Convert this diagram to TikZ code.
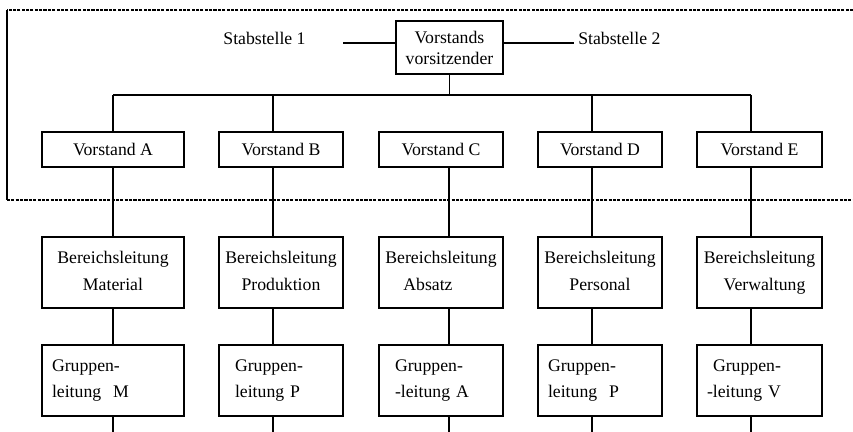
\documentclass[tikz,border=0pt]{standalone}
\usepackage{fontspec}
\setmainfont{Liberation Serif}
\usetikzlibrary{calc}

\tikzset{
    orgline/.style={line width=1.1pt},
    frameline/.style={line width=1.1pt, dash pattern=on 2.2pt off 0.9pt},
    vbox/.style={draw, orgline, inner sep=0pt, minimum height=35*0.025cm,
        font=\fontsize{12.6}{15}\selectfont},
    bbox/.style={draw, orgline, inner sep=0pt, minimum height=71*0.025cm,
        align=center, font=\fontsize{12.6}{19}\selectfont},
    gbox/.style={draw, orgline, inner xsep=10*0.025cm, inner ysep=0pt,
        minimum height=71*0.025cm, align=left,
        font=\fontsize{12.6}{19}\selectfont},
    stabtext/.style={inner sep=0pt, font=\fontsize{12.6}{15}\selectfont},
}

\begin{document}
\begin{tikzpicture}[x=0.025cm, y=-0.025cm]

    % canvas in pixel units of the reference
    \useasboundingbox (0,0) rectangle (853,432);

    % vertical connector columns
    \coordinate (xA) at (113,0);
    \coordinate (xB) at (273,0);
    \coordinate (xC) at (449,0);
    \coordinate (xD) at (592,0);
    \coordinate (xE) at (751,0);
    \coordinate (bus) at (0,95);
    \coordinate (bottom) at (0,432);

    % board frame
    \draw[frameline] (853,10) -- (7,10);
    \draw[orgline] (7,10) -- (7,200);
    \draw[frameline] (7,200) -- (853,200);

    % chairman and staff positions
    \node[vbox, align=center, minimum width=107*0.025cm, minimum height=53*0.025cm]
        (vorsitz) at (449.5,47.5) {Vorstands\\vorsitzender};
    \coordinate (s1) at (343,43);
    \coordinate (s2) at (574,43);
    \node[stabtext, anchor=base] (stab1) at (264.5,45) {Stabstelle 1};
    \node[stabtext, anchor=base west] (stab2) at (578,45) {Stabstelle 2};
    \draw[orgline] (s1) -- (s1 -| vorsitz.west);
    \draw[orgline] (vorsitz.east |- s2) -- (s2);

    % board members
    \node[vbox, minimum width=142*0.025cm] (vA) at (113,149.5) {Vorstand A};
    \node[vbox, minimum width=124*0.025cm] (vB) at (281,149.5) {Vorstand B};
    \node[vbox, minimum width=124*0.025cm] (vC) at (441,149.5) {Vorstand C};
    \node[vbox, minimum width=124*0.025cm] (vD) at (600,149.5) {Vorstand D};
    \node[vbox, minimum width=125*0.025cm] (vE) at (759.5,149.5) {Vorstand E};

    % division heads
    \node[bbox, minimum width=142*0.025cm] (bA) at (113,272.5) {Bereichsleitung\\Material\vphantom{g}};
    \node[bbox, minimum width=124*0.025cm] (bB) at (281,272.5) {Bereichsleitung\\Produktion\vphantom{g}};
    \node[bbox, minimum width=124*0.025cm] (bC) at (441,272.5) {Bereichsleitung\\Absatz\vphantom{g}\hspace*{26\dimexpr0.025cm\relax}};
    \node[bbox, minimum width=124*0.025cm] (bD) at (600,272.5) {Bereichsleitung\\Personal\vphantom{g}};
    \node[bbox, minimum width=125*0.025cm] (bE) at (759.5,272.5) {Bereichsleitung\\\hspace*{10\dimexpr0.025cm\relax}Verwaltung};

    % group heads
    \node[gbox, text width=122*0.025cm] (gA) at (113,380.5) {Gruppen-\\leitung~~M};
    \node[gbox, text width=104*0.025cm] (gB) at (281,380.5) {\hspace*{6\dimexpr0.025cm\relax}Gruppen-\\\hspace*{6\dimexpr0.025cm\relax}leitung P};
    \node[gbox, text width=104*0.025cm] (gC) at (441,380.5) {\hspace*{6\dimexpr0.025cm\relax}Gruppen-\\\hspace*{6\dimexpr0.025cm\relax}-leitung A};
    \node[gbox, text width=104*0.025cm] (gD) at (600,380.5) {Gruppen-\\leitung~~P};
    \node[gbox, text width=105*0.025cm] (gE) at (759.5,380.5) {\hspace*{6\dimexpr0.025cm\relax}Gruppen-\\-leitung V};

    % chairman to board bus
    \draw[orgline] (vorsitz.south) -- (vorsitz.south |- bus);
    \draw[orgline] (xA |- bus) -- (xE |- bus);

    % column connectors
    \draw[orgline] (xA |- bus) -- (xA |- vA.north);
    \draw[orgline] (xB |- bus) -- (xB |- vB.north);
    \draw[orgline] (xD |- bus) -- (xD |- vD.north);
    \draw[orgline] (xE |- bus) -- (xE |- vE.north);

    \draw[orgline] (xA |- vA.south) -- (xA |- bA.north);
    \draw[orgline] (xB |- vB.south) -- (xB |- bB.north);
    \draw[orgline] (xC |- vC.south) -- (xC |- bC.north);
    \draw[orgline] (xD |- vD.south) -- (xD |- bD.north);
    \draw[orgline] (xE |- vE.south) -- (xE |- bE.north);

    \draw[orgline] (xA |- bA.south) -- (xA |- gA.north);
    \draw[orgline] (xB |- bB.south) -- (xB |- gB.north);
    \draw[orgline] (xC |- bC.south) -- (xC |- gC.north);
    \draw[orgline] (xD |- bD.south) -- (xD |- gD.north);
    \draw[orgline] (xE |- bE.south) -- (xE |- gE.north);

    \draw[orgline] (xA |- gA.south) -- (xA |- bottom);
    \draw[orgline] (xB |- gB.south) -- (xB |- bottom);
    \draw[orgline] (xC |- gC.south) -- (xC |- bottom);
    \draw[orgline] (xD |- gD.south) -- (xD |- bottom);
    \draw[orgline] (xE |- gE.south) -- (xE |- bottom);

\end{tikzpicture}
\end{document}
